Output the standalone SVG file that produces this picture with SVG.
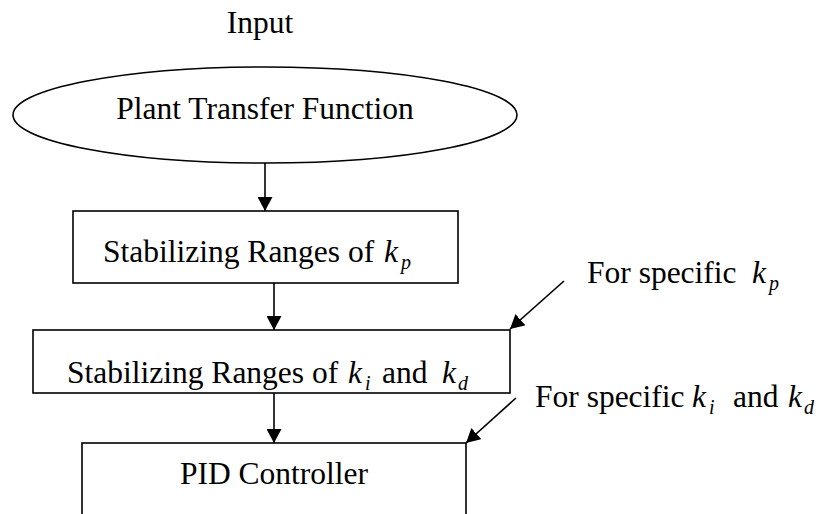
<svg xmlns="http://www.w3.org/2000/svg" width="820" height="514" viewBox="0 0 820 514">
<defs>
<style>
text{font-family:'Liberation Serif',Tinos,'DejaVu Serif',serif;fill:#000}
.t{font-size:31.5px}
.m{font-size:31.5px;font-style:italic}
.s{font-size:20px;font-style:italic}
.n{fill:#fff;stroke:#000;stroke-width:1.6}
.c{fill:none;stroke:#000;stroke-width:1.6}
</style>
<marker id="ah" viewBox="0 0 14 15" refX="14" refY="7.5" markerWidth="14" markerHeight="15" markerUnits="userSpaceOnUse" orient="auto">
<path d="M0,0 L14,7.5 L0,15 Z" fill="#000"/>
</marker>
</defs>
<rect width="820" height="514" fill="#fff"/>
<g id="input-label"><text class="t" x="260" y="33" text-anchor="middle">Input</text></g>
<g id="plant">
<ellipse class="n" cx="265" cy="115" rx="252" ry="48"/>
<text class="t" x="265" y="119" text-anchor="middle">Plant Transfer Function</text>
</g>
<g id="kp-range">
<rect class="n" x="73" y="211" width="385" height="72"/>
<text class="t" x="103" y="262">Stabilizing Ranges of</text>
<text class="m" x="384" y="262">k</text><text class="s" x="401" y="269">p</text>
</g>
<g id="kikd-range">
<rect class="n" x="33" y="330" width="477" height="63"/>
<text class="t" x="67" y="383">Stabilizing Ranges of</text>
<text class="m" x="348" y="383">k</text><text class="s" x="365" y="390">i</text>
<text class="t" x="382" y="383">and</text>
<text class="m" x="442" y="383">k</text><text class="s" x="458" y="390">d</text>
</g>
<g id="pid">
<rect class="n" x="82" y="443" width="384" height="90"/>
<text class="t" x="274" y="484" text-anchor="middle">PID Controller</text>
</g>
<g id="note-kp">
<text class="t" x="587" y="283">For specific</text>
<text class="m" x="752" y="283">k</text><text class="s" x="769" y="290">p</text>
</g>
<g id="note-kikd">
<text class="t" x="535" y="407">For specific</text>
<text class="m" x="692" y="407">k</text><text class="s" x="709" y="414">i</text>
<text class="t" x="733" y="407">and</text>
<text class="m" x="788" y="407">k</text><text class="s" x="804" y="414">d</text>
</g>
<g id="connectors">
<line class="c" x1="265" y1="163" x2="265" y2="211" marker-end="url(#ah)"/>
<line class="c" x1="274" y1="283" x2="274" y2="330" marker-end="url(#ah)"/>
<line class="c" x1="274" y1="393" x2="274" y2="443" marker-end="url(#ah)"/>
<line class="c" x1="564" y1="281" x2="510" y2="329" marker-end="url(#ah)"/>
<line class="c" x1="516" y1="398" x2="466" y2="443" marker-end="url(#ah)"/>
</g>
</svg>
